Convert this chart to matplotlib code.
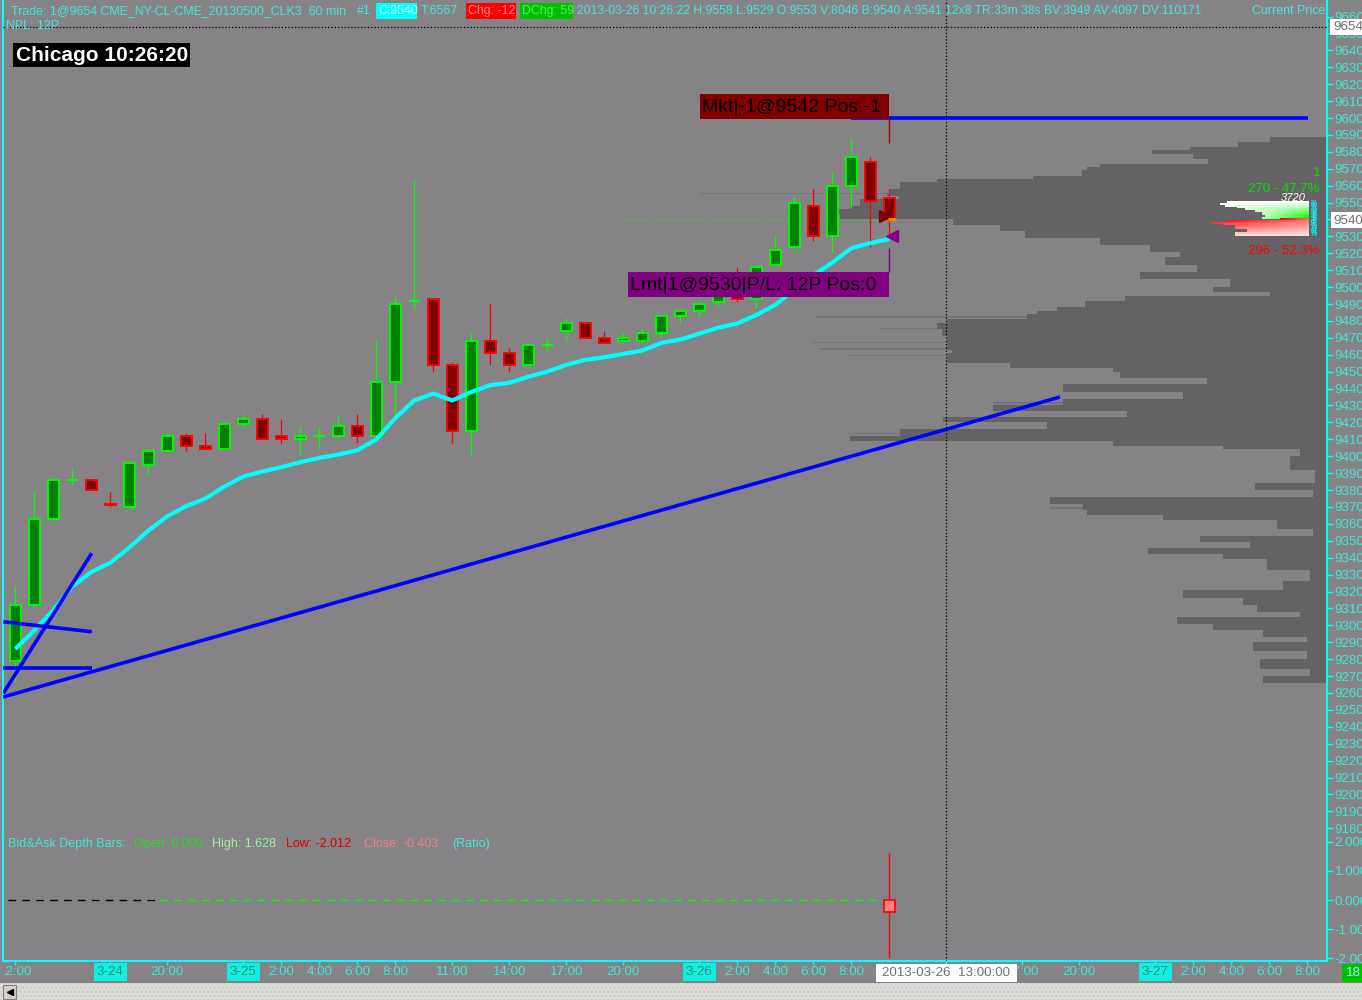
import matplotlib.pyplot as plt
import numpy as np
from matplotlib.patches import Rectangle
from matplotlib.transforms import Bbox, TransformedBbox

plt.rcParams['font.family'] = ['Liberation Sans', 'DejaVu Sans']
plt.rcParams['axes.unicode_minus'] = False

BG = '#868386'
DARK = '#646265'
LIGHTROW = '#767477'
TURQ = '#40e8d8'
CYAN = '#00ffff'
UP_FILL, UP_EDGE = '#008000', '#00ff00'
DN_FILL, DN_EDGE = '#800000', '#ff0000'

# --- 60 min bars, CLK3 (index 0 = 3-22 12:00 ... index 46 = 3-26 10:00)
opens = [9279, 9312, 9363, 9386, 9386, 9372, 9370, 9395, 9403, 9412, 9406, 9404,
         9419, 9422, 9412, 9410, 9412, 9412, 9418, 9412, 9444, 9492, 9493, 9454,
         9415, 9468, 9461, 9454, 9466, 9474, 9479, 9470, 9468, 9468, 9473, 9483,
         9486, 9491, 9500, 9493, 9513, 9524, 9548, 9530, 9560, 9574, 9553]
highs = [9323, 9380, 9388, 9393, 9386, 9379, 9397, 9405, 9414, 9414, 9414, 9420,
         9425, 9425, 9422, 9418, 9417, 9425, 9425, 9469, 9495, 9564, 9493, 9456,
         9473, 9490, 9464, 9466, 9470, 9482, 9479, 9474, 9473, 9475, 9483, 9487,
         9492, 9500, 9512, 9512, 9530, 9554, 9558, 9568, 9588, 9577, 9558]
lows = [9267, 9312, 9362, 9383, 9380, 9370, 9370, 9389, 9403, 9403, 9404, 9404,
        9417, 9410, 9407, 9401, 9404, 9411, 9408, 9412, 9422, 9487, 9450, 9408,
        9401, 9454, 9450, 9453, 9462, 9468, 9470, 9467, 9468, 9467, 9470, 9479,
        9483, 9489, 9491, 9487, 9513, 9523, 9527, 9521, 9547, 9524, 9529]
closes = [9312, 9363, 9386, 9386, 9380, 9371, 9396, 9403, 9412, 9406, 9404, 9419,
          9422, 9410, 9410, 9412, 9412, 9418, 9412, 9444, 9490, 9492, 9454, 9415,
          9468, 9461, 9454, 9466, 9466, 9479, 9470, 9467, 9470, 9473, 9483, 9486,
          9490, 9497, 9493, 9512, 9522, 9550, 9530, 9560, 9577, 9551, 9540]
ma = [9286, 9297, 9309, 9323, 9331.5, 9337, 9346, 9356, 9364.5, 9370.5, 9375, 9382,
      9388, 9391, 9393.5, 9396.5, 9399, 9401, 9403.5, 9410, 9422.5, 9433, 9437, 9433,
      9438, 9442, 9443.5, 9447, 9450, 9454, 9457, 9458.5, 9460.5, 9462.5, 9467, 9469,
      9472.5, 9476, 9478.5, 9483.5, 9489.5, 9498.5, 9507, 9514.5, 9523, 9526, 9528.5]

# x tick labels (bar index, text)
xtick_pos = [0, 5, 8, 12, 14, 16, 18, 20, 23, 26, 29, 32, 36, 38, 40, 42, 44,
             53, 56, 60, 62, 64, 66, 68]
xtick_txt = ['12:00', '3-24', '20:00', '3-25', '2:00', '4:00', '6:00', '8:00',
             '11:00', '14:00', '17:00', '20:00', '3-26', '2:00', '4:00', '6:00',
             '8:00', '17:00', '20:00', '3-27', '2:00', '4:00', '6:00', '8:00']

# volume profile (price bin edges, descending) and volume per bin
prof_edges = [9589, 9586, 9583, 9581, 9579, 9576, 9573, 9571, 9569, 9566, 9564, 9562,
              9558, 9555, 9554, 9552, 9548, 9546, 9543, 9540, 9537, 9533, 9529, 9525,
              9521, 9518, 9513, 9509, 9505, 9500, 9497, 9495, 9492, 9488, 9486, 9484,
              9481, 9479, 9475, 9471, 9467, 9463, 9461, 9458, 9455, 9452, 9450, 9446,
              9443, 9438, 9434, 9430, 9427, 9423, 9420, 9416, 9412, 9409, 9406, 9404,
              9400, 9392, 9384, 9380, 9376, 9372, 9368, 9365, 9362, 9357, 9353, 9349,
              9346, 9342, 9339, 9333, 9326, 9321, 9316, 9312, 9308, 9305, 9301, 9297,
              9293, 9290, 9285, 9280, 9274, 9270, 9266]
prof_vol = [57, 89, 137, 175, 134, 119, 227, 240, 245, 294, 390, 427,
            437, 440, 428, 467, 477, 489, 487, 374, 327, 302, 227, 177,
            147, 162, 130, 187, 97, 114, 57, 202, 242, 270, 290, 300,
            380, 390, 385, 380, 380, 375, 380, 380, 317, 214, 207, 120,
            264, 144, 264, 334, 200, 384, 280, 427, 477, 214, 104, 27,
            37, 12, 72, 14, 277, 244, 240, 164, 50, 14, 127, 77,
            179, 104, 60, 17, 44, 144, 84, 70, 27, 150, 114, 64,
            20, 74, 20, 67, 17, 64]
thin_price = [9580, 9555, 9545, 9482, 9475, 9467, 9463, 9459, 9413, 9431, 9369]
thin_vol = [175, 627, 489, 512, 447, 515, 508, 480, 477, 334, 277]

# bid/ask depth
ask_price = [9541, 9542, 9543, 9544, 9545, 9546, 9547, 9548, 9549, 9550]
ask_size = [46, 43, 46, 46, 53, 63, 71, 83, 88, 81]
bid_price = [9540, 9539, 9538, 9537, 9536, 9535, 9534, 9533, 9532, 9531]
bid_size = [28, 82, 97, 85, 73, 73, 61, 61, 73, 73]

# drawn trend lines (bar index, price)
trend_lines = [((-0.65, 9257.6), (54.98, 9435)),
               ((-0.63, 9259.8), (4.02, 9342.6)),
               ((-0.63, 9302.1), (4.02, 9296.2)),
               ((-0.63, 9274.6), (4.02, 9274.6)),
               ((43.97, 9600), (68.04, 9600))]

# depth ratio bar
ratio_open, ratio_high, ratio_low, ratio_close = 0.000, 1.628, -2.012, -0.403

W, H = 1362, 1000
PX = 1 / 19.0            # one pixel in bar-index units
XMIN, XMAX = -0.647, 69.037

fig = plt.figure(figsize=(W / 100, H / 100), dpi=100, facecolor=BG)
main = fig.add_axes([3 / W, 1 - 835 / H, 1324 / W, 835 / H], facecolor=BG)
low = fig.add_axes([3 / W, 1 - 961 / H, 1324 / W, 126 / H], facecolor=BG)

# volume profile
tops = np.array(prof_edges[:-1])
bots = np.array(prof_edges[1:])
vol = np.array(prof_vol)
main.barh(bots, vol * PX, height=tops - bots, left=XMAX - vol * PX, align='edge',
          color=DARK, lw=0, zorder=1)
tv = np.array(thin_vol)
main.barh(thin_price, tv * PX, height=0.8, left=XMAX - tv * PX, align='edge',
          color=LIGHTROW, lw=0, zorder=0.9)

# candles
idx = np.arange(len(opens))
for i in idx:
    o, h, l, c = opens[i], highs[i], lows[i], closes[i]
    up = c >= o
    edge = UP_EDGE if up else DN_EDGE
    fill = UP_FILL if up else DN_FILL
    main.vlines(i, l, h, color=edge, lw=0.9, zorder=3)
    if o == c:
        main.hlines(o, i - 0.28, i + 0.28, color=edge, lw=1.6, zorder=4)
    else:
        main.bar(i, abs(c - o), width=0.58, bottom=min(o, c), color=fill,
                 edgecolor=edge, lw=1.3, zorder=4)

main.plot(idx, ma, color=CYAN, lw=3, zorder=5, solid_capstyle='butt')

for (x0, y0), (x1, y1) in trend_lines:
    main.plot([x0, x1], [y0, y1], color='#0000ff', lw=2.6, zorder=6,
              solid_capstyle='butt')

# order markers on the last bar
last = idx[-1]
main.vlines(last, 9585, 9600, color='#b00000', lw=1, zorder=6)
main.vlines(last, 9509, 9523, color='#800080', lw=1, zorder=6)
main.plot(last + 0.15, 9530, marker='<', ms=9, color='#800080', zorder=7)
main.plot(last - 0.2, 9542, marker='>', ms=8, color='#800000', zorder=7)
main.hlines(9540.5, last - 0.05, last + 0.35, color='#ff8000', lw=2.2, zorder=7)
main.vlines(last, 9532, 9539, color='#ff0000', lw=0.8, linestyles=':', zorder=7)
main.hlines(9539.5, 31.98, 45.5, color='#00ff00', lw=0.8, linestyles=':', zorder=2)

# depth bars with gradient
xr = 68.04
for k, (p, s) in enumerate(zip(ask_price, ask_size)):
    t = k / (len(ask_price) - 1)
    rc = np.array([0, 1, 0]) * (1 - t) + np.array([1, 1, 1]) * t
    g = np.linspace(0, 1, 40)[:, None]
    row = (np.array([1, 1, 1]) * (1 - g) * 0.7 + rc * (0.3 + 0.7 * g))
    main.imshow(row[None, :, :], extent=(xr - s * PX, xr, p - 0.5, p + 0.5),
                aspect='auto', zorder=8, interpolation='bilinear')
for k, (p, s) in enumerate(zip(bid_price, bid_size)):
    t = k / (len(bid_price) - 1)
    rc = np.array([1, 0, 0]) * (1 - 0.85 * t) + np.array([1, 1, 1]) * 0.85 * t
    g = np.linspace(0, 1, 40)[:, None]
    row = rc * (1 - 0.5 * g) + np.array([1, 0.85, 0.85]) * 0.5 * g
    main.imshow(row[None, :, :], extent=(xr - s * PX, xr, p - 0.5, p + 0.5),
                aspect='auto', zorder=8, interpolation='bilinear')
for p, s in zip(ask_price + bid_price, ask_size + bid_size):
    main.text(xr + 0.15, p, str(s), color=CYAN, fontsize=4.5, va='center',
              ha='left', zorder=9)

# crosshair
main.axvline(49, color='black', ls=':', lw=0.9, zorder=9)
low.axvline(49, color='black', ls=':', lw=0.9, zorder=9)
main.axhline(9654, color='black', ls=':', lw=0.9, zorder=9)

main.set_xlim(XMIN, XMAX)
main.set_ylim(9176, 9669.8)
main.set_xticks([])
main.yaxis.tick_right()
main.set_yticks(np.arange(9180, 9661, 10))
main.tick_params(axis='y', colors=CYAN, labelcolor=TURQ, labelsize=9.6, length=4,
                 width=1, pad=1.5)
for side in ['top', 'bottom']:
    main.spines[side].set_visible(False)
for side in ['left', 'right']:
    main.spines[side].set_color(CYAN)
    main.spines[side].set_linewidth(1.5)

# lower panel: bid/ask depth ratio
low.hlines(0, -0.38, 7.35, color='black', lw=1, linestyles=(0, (5.5, 4.5)))
low.hlines(0, 7.6, 45.8, color='#00ff00', lw=1, linestyles=(0, (5.5, 4.5)))
low.vlines(last, ratio_low, ratio_high, color='#ff0000', lw=1, zorder=3)
low.bar(last, ratio_open - ratio_close, width=0.55, bottom=ratio_close,
        color='#ff8080', edgecolor='#ff0000', lw=1.2, zorder=4)
low.set_xlim(XMIN, XMAX)
low.set_ylim(-2.103, 2.241)
low.yaxis.tick_right()
low.set_yticks([2, 1, 0, -1, -2])
low.set_yticklabels(['%.3f' % v for v in [2, 1, 0, -1, -2]])
low.tick_params(axis='y', colors=CYAN, labelcolor=TURQ, labelsize=9.6, length=4,
                width=1, pad=1.5)
low.set_xticks(xtick_pos + [49])
low.set_xticklabels([])
low.tick_params(axis='x', colors=CYAN, length=3, width=1)
low.spines['top'].set_visible(False)
for side in ['left', 'right', 'bottom']:
    low.spines[side].set_color(CYAN)
    low.spines[side].set_linewidth(1.5)

xt = low.get_xaxis_transform()
clip = TransformedBbox(Bbox.from_extents(4 / W, 0, 1, 1), fig.transFigure)
for pos, txt in zip(xtick_pos, xtick_txt):
    if '-' in txt:
        t = low.text(pos, -0.087, txt, transform=xt, ha='center', va='center',
                     fontsize=9.6, color='#1f8f88',
                     bbox=dict(boxstyle='square,pad=0.22', fc='#10f0e0', ec='none'))
    else:
        t = low.text(pos, -0.087, txt, transform=xt, ha='center', va='center',
                     fontsize=9.6, color=TURQ)
    t.set_clip_box(clip)
    t.set_clip_on(True)

# overlay in pixel coordinates for header and labels
ov = fig.add_axes([0, 0, 1, 1], zorder=10)
ov.set_xlim(0, W)
ov.set_ylim(H, 0)
ov.axis('off')
ov.patch.set_alpha(0)

hs = 8.9
ov.text(11, 11, 'Trade: 1@9654 CME_NY-CL-CME_20130500_CLK3  60 min', color=TURQ,
        fontsize=hs, va='center')
ov.text(357, 11, '#1', color=TURQ, fontsize=hs, va='center')
ov.add_patch(Rectangle((376, 3), 41, 16, fc='#00ffff', ec='none'))
ov.text(378, 11, 'C:9540', color='#c8ffff', fontsize=hs, va='center')
ov.text(421, 11, 'T:6567', color=TURQ, fontsize=hs, va='center')
ov.add_patch(Rectangle((466, 3), 50, 16, fc='#ff0000', ec='none'))
ov.text(468, 11, 'Chg: -12', color='#ff9090', fontsize=hs, va='center')
ov.add_patch(Rectangle((520, 3), 53, 16, fc='#00c000', ec='none'))
ov.text(522, 11, 'DChg: 59', color='#50f050', fontsize=hs, va='center')
ov.text(577, 11, '2013-03-26 10:26:22 H:9558 L:9529 O:9553 V:8046 B:9540 A:9541 '
        '12x8 TR:33m 38s BV:3949 AV:4097 DV:110171', color=TURQ, fontsize=8.7,
        va='center')
ov.text(1325, 11, 'Current Price', color=TURQ, fontsize=hs, va='center', ha='right')
ov.text(6, 26, 'NPL: 12P', color=TURQ, fontsize=hs, va='center')

ov.add_patch(Rectangle((13, 43), 177, 24, fc='black', ec='none'))
ov.text(16, 55.5, 'Chicago 10:26:20', color='white', fontsize=15, fontweight='bold',
        va='center')

ov.add_patch(Rectangle((700, 94), 189, 25, fc='#800000', ec='none'))
ov.text(702, 107, 'Mkt|-1@9542 Pos:-1', color='black', fontsize=14, va='center')
ov.add_patch(Rectangle((628, 272), 261, 25, fc='#800080', ec='none'))
ov.text(630, 285, 'Lmt|1@9530|P/L: 12P Pos:0', color='black', fontsize=14,
        va='center')

ov.text(1320, 173, '1', color='#00e000', fontsize=9.5, va='center', ha='right')
ov.text(1320, 189, '270 - 47.7%', color='#00e000', fontsize=9.5, va='center',
        ha='right')
ov.text(1306, 198, '3720', color='white', fontsize=8, va='center', ha='right',
        style='italic')
ov.text(1320, 251, '296 - 52.3%', color='#ff0000', fontsize=9.5, va='center',
        ha='right')

ov.add_patch(Rectangle((1330, 19), 32, 16, fc='white', ec='none'))
ov.text(1333, 27.5, '9654', color='#707070', fontsize=9.6, va='center')
ov.add_patch(Rectangle((1331, 212), 31, 16, fc='white', ec='none'))
ov.text(1333, 220.5, '9540', color='#707070', fontsize=9.6, va='center')

tb = [('Bid&Ask Depth Bars:', 8, TURQ), ('Open: 0.000', 134, '#20e020'),
      ('High: 1.628', 212, '#a0f0a0'), ('Low: -2.012', 286, '#e00000'),
      ('Close: -0.403', 364, '#f08080'), ('(Ratio)', 452, TURQ)]
for s, x, col in tb:
    ov.text(x, 844, s, color=col, fontsize=9, va='center')

ov.add_patch(Rectangle((876, 964), 141, 18, fc='white', ec='none'))
ov.text(946.5, 973, '2013-03-26  13:00:00', color='#707070', fontsize=9.6,
        va='center', ha='center')
ov.add_patch(Rectangle((1342, 964), 20, 18, fc='#00c000', ec='none'))
ov.text(1346, 973, '18', color='#80ffff', fontsize=9.6, va='center')

# scrollbar strip
ov.add_patch(Rectangle((0, 983), W, 17, fc='#dcdcd8', ec='#c8c8c4', hatch='....',
                       lw=0))
ov.add_patch(Rectangle((3, 985), 13, 14, fc='#d4d0c8', ec='#808080', lw=0.8))
ov.plot(9.5, 992, marker='<', ms=4, color='black')

fig.savefig('out.png', dpi=100, facecolor=BG)
